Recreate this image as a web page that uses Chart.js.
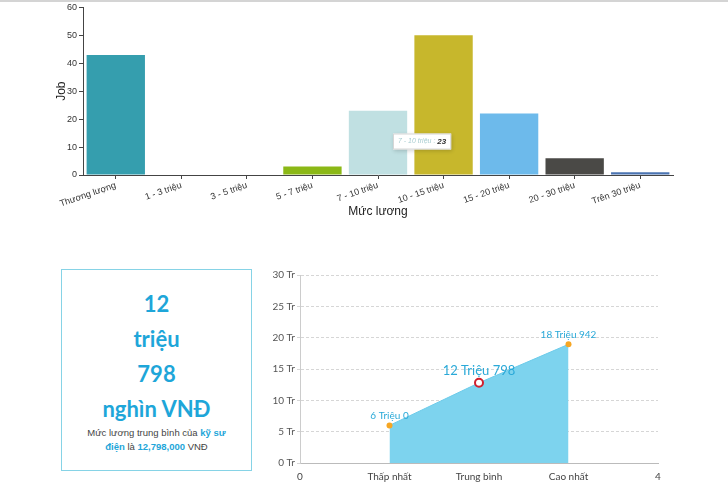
<!DOCTYPE html>
<html>
<head>
<meta charset="utf-8">
<script src="https://cdn.jsdelivr.net/npm/chart.js@4.4.0/dist/chart.umd.min.js"></script>
<style>
  body { margin: 0; width: 728px; height: 486px; background: #fff; position: relative; overflow: hidden; }
  #topline { position: absolute; left: 0; top: 0; width: 728px; height: 2px; background: #d4d4d4; }
  #jobWrap { position: absolute; left: 0; top: 0; width: 728px; height: 225px; }
  #salaryWrap { position: absolute; left: 262px; top: 262px; width: 466px; height: 224px; }
  #avgBox {
    position: absolute; left: 61px; top: 269px; width: 189px; height: 200px;
    border: 1px solid #86d3e6; text-align: center; box-sizing: content-box;
  }
  #avgBox .big { font-family: Lato, sans-serif; font-weight: bold; font-size: 22px; line-height: 35px; color: #1ea6d9; }
  #avgBox .big:first-child { margin-top: 16px; }
  #avgBox .small { font-family: "Liberation Sans", Arial, sans-serif; font-size: 9.5px; line-height: 14px; color: #444; margin-top: 0; }
  #avgBox .small b { color: #1ea6d9; }
</style>
</head>
<body>
<div id="topline"></div>
<div id="jobWrap"><canvas id="jobChart"></canvas></div>
<div id="avgBox">
  <div class="big">12</div>
  <div class="big">triệu</div>
  <div class="big">798</div>
  <div class="big">nghìn VNĐ</div>
  <div class="small">Mức lương trung bình của <b>kỹ sư<br>điện</b> là <b>12,798,000</b> VNĐ</div>
</div>
<div id="salaryWrap"><canvas id="salaryChart"></canvas></div>
<script>
// bar chart data
const salaryRanges = ['Thương lượng', '1 - 3 triệu', '3 - 5 triệu', '5 - 7 triệu', '7 - 10 triệu',
  '10 - 15 triệu', '15 - 20 triệu', '20 - 30 triệu', 'Trên 30 triệu'];
const jobCounts = [43, 0, 0, 3, 23, 50, 22, 6, 1];
const barColors = ['#359eae', '#9ec93a', '#d9c84a', '#8bb816', '#c0e0e2', '#c7b72c', '#6dbaeb', '#4a4946', '#4b74b2'];
const hoverIndex = 4;

// salary line data
const levelTicks = ['0', 'Thấp nhất', 'Trung bình', 'Cao nhất', '4'];
const levelX = [1, 2, 3];
const salaryTr = [6, 12.798, 18.942];

const fakeTooltip = {
  id: 'fakeTooltip',
  afterDraw(chart) {
    const bar = chart.getDatasetMeta(0).data[hoverIndex];
    const ctx = chart.ctx;
    const t1 = salaryRanges[hoverIndex] + ' : ';
    const t2 = String(jobCounts[hoverIndex]);
    ctx.save();
    ctx.font = 'italic 7px "Liberation Sans", Arial, sans-serif';
    const w1 = ctx.measureText(t1).width;
    ctx.font = 'italic bold 8px "Liberation Sans", Arial, sans-serif';
    const w2 = ctx.measureText(t2).width;
    const w = w1 + w2 + 10, h = 16;
    const x = bar.x + 15, y = bar.base - 41;
    ctx.shadowColor = 'rgba(0,0,0,0.18)';
    ctx.shadowBlur = 4;
    ctx.shadowOffsetX = 1;
    ctx.shadowOffsetY = 1;
    ctx.fillStyle = '#fff';
    ctx.fillRect(x, y, w, h);
    ctx.shadowColor = 'transparent';
    ctx.strokeStyle = '#d6d6d6';
    ctx.lineWidth = 1;
    ctx.strokeRect(x + 0.5, y + 0.5, w - 1, h - 1);
    ctx.textBaseline = 'middle';
    ctx.textAlign = 'left';
    ctx.font = 'italic 7px "Liberation Sans", Arial, sans-serif';
    ctx.fillStyle = '#a8cdd1';
    ctx.fillText(t1, x + 5, y + h / 2);
    ctx.font = 'italic bold 8px "Liberation Sans", Arial, sans-serif';
    ctx.fillStyle = '#333';
    ctx.fillText(t2, x + 5 + w1, y + h / 2);
    ctx.restore();
  }
};

new Chart(document.getElementById('jobChart'), {
  type: 'bar',
  data: {
    labels: salaryRanges,
    datasets: [{ data: jobCounts, backgroundColor: barColors, borderWidth: 0,
      categoryPercentage: 1, barPercentage: 0.89 }]
  },
  options: {
    responsive: true, maintainAspectRatio: false, animation: false,
    layout: { padding: { left: 50, right: 55, top: 0, bottom: 0 } },
    plugins: { legend: { display: false }, tooltip: { enabled: false } },
    scales: {
      x: {
        grid: { display: true, drawOnChartArea: false, offset: false, tickLength: 4, color: '#444' },
        border: { color: '#444' },
        ticks: { minRotation: 19, maxRotation: 19, autoSkip: false, padding: 1, color: '#333',
          font: { family: '"Liberation Sans", Arial, sans-serif', size: 9 } },
        title: { display: true, text: 'Mức lương', color: '#222', padding: { top: 0, bottom: 6 },
          font: { family: '"Liberation Sans", Arial, sans-serif', size: 12 } },
        afterFit(scale) { scale.height = 50; }
      },
      y: {
        min: 0, max: 60,
        grid: { display: true, drawOnChartArea: false, tickLength: 4, color: '#444' },
        border: { color: '#444' },
        ticks: { stepSize: 10, padding: 2, color: '#333',
          font: { family: '"Liberation Sans", Arial, sans-serif', size: 9 } },
        title: { display: true, text: 'Job', color: '#222', padding: { top: 4, bottom: 0 },
          font: { family: '"Liberation Sans", Arial, sans-serif', size: 12 } },
        afterFit(scale) { scale.width = 33; }
      }
    }
  },
  plugins: [fakeTooltip]
});

const pointLabels = {
  id: 'pointLabels',
  afterDatasetsDraw(chart) {
    const ctx = chart.ctx;
    const pts = chart.getDatasetMeta(0).data;
    ctx.save();
    ctx.textAlign = 'center';
    ctx.textBaseline = 'middle';
    ctx.fillStyle = '#2aa9d8';
    pts.forEach((p, i) => {
      const v = salaryTr[i];
      const text = Math.floor(v) + ' Triệu ' + Math.round((v - Math.floor(v)) * 1000);
      const big = i === 1;
      ctx.font = (big ? 13 : 10) + 'px Lato, sans-serif';
      ctx.fillText(text, p.x, p.y - (big ? 12 : 10));
    });
    ctx.restore();
  }
};

new Chart(document.getElementById('salaryChart'), {
  type: 'line',
  data: {
    datasets: [{
      data: levelX.map((x, i) => ({ x: x, y: salaryTr[i] })),
      fill: 'origin',
      backgroundColor: '#7dd3ee',
      borderColor: '#6ccbea',
      borderWidth: 1,
      tension: 0,
      pointRadius: [3, 4, 3],
      pointBackgroundColor: ['#f6a623', '#fff', '#f6a623'],
      pointBorderColor: ['#f6a623', '#d0202e', '#f6a623'],
      pointBorderWidth: [0, 2, 0]
    }]
  },
  options: {
    responsive: true, maintainAspectRatio: false, animation: false,
    layout: { padding: { left: 0, right: 70, top: 13, bottom: 0 } },
    plugins: { legend: { display: false }, tooltip: { enabled: false } },
    scales: {
      x: {
        type: 'linear', min: 0, max: 4,
        grid: { display: false, drawTicks: false },
        border: { color: '#bbb' },
        ticks: { stepSize: 1, padding: 8, color: '#444',
          font: { family: 'Lato, sans-serif', size: 10 },
          callback: (v) => levelTicks[v] },
        afterFit(scale) { scale.height = 23; }
      },
      y: {
        min: 0, max: 30,
        grid: { color: '#d6d6d6', tickLength: 3 },
        border: { color: '#ccc', dash: [3, 2] },
        ticks: { stepSize: 5, padding: 2, color: '#555',
          font: { family: 'Lato, sans-serif', size: 10 },
          callback: (v) => v + ' Tr' },
        afterFit(scale) { scale.width = 38; }
      }
    }
  },
  plugins: [pointLabels]
});
</script>
</body>
</html>
